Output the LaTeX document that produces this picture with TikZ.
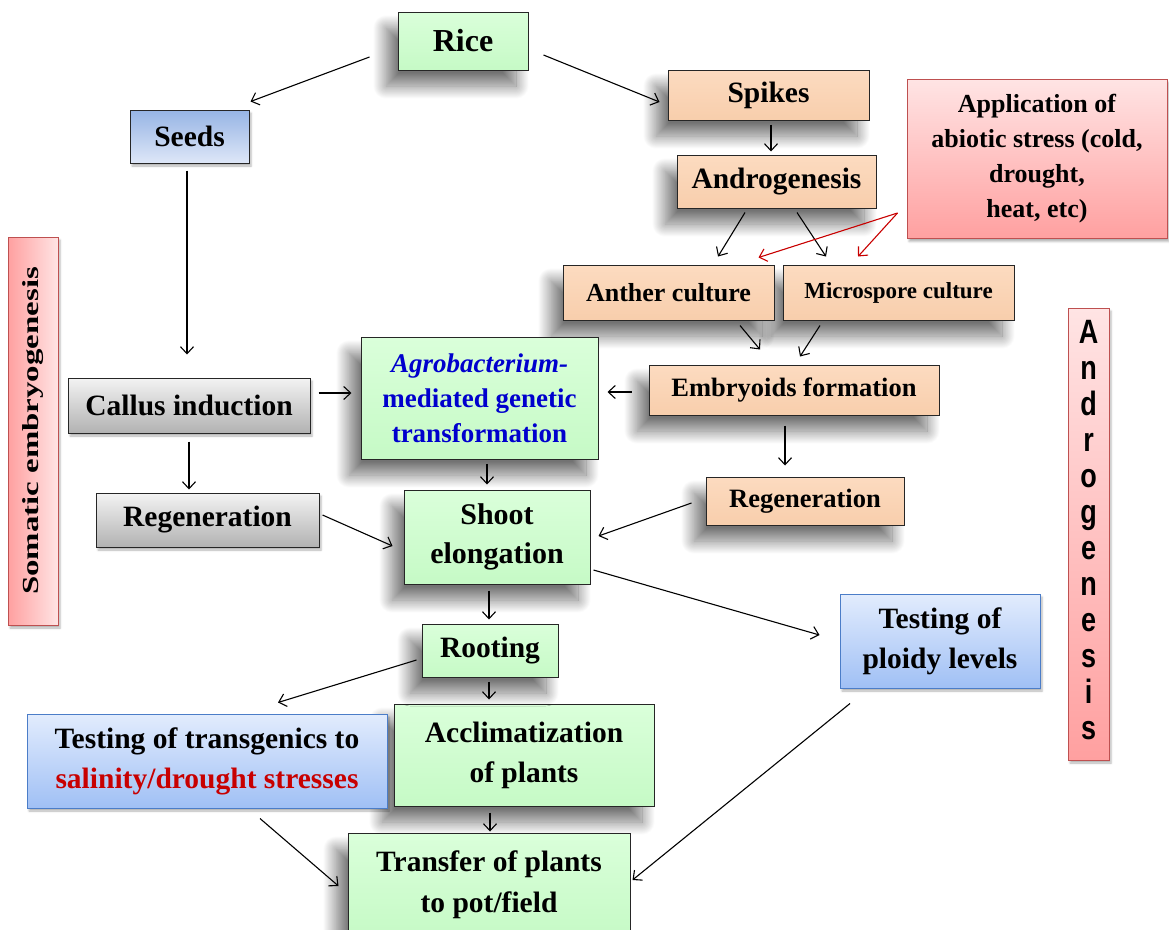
\documentclass[tikz,border=0pt]{standalone}
\usepackage{fontspec}
\setmainfont{Liberation Serif}
\newfontfamily\androfont{Liberation Sans}
\usetikzlibrary{shadows.blur, arrows.meta}

\definecolor{grtop}{RGB}{218,255,218}
\definecolor{grbot}{RGB}{198,250,198}
\definecolor{petop}{RGB}{252,219,192}
\definecolor{pebot}{RGB}{248,206,172}
\definecolor{sdtop}{RGB}{150,180,228}
\definecolor{sdbot}{RGB}{222,231,248}
\definecolor{tsttop}{RGB}{226,236,253}
\definecolor{tstbot}{RGB}{160,192,245}
\definecolor{tstline}{RGB}{75,125,200}
\definecolor{gytop}{RGB}{243,243,243}
\definecolor{gybot}{RGB}{178,178,178}
\definecolor{pktop}{RGB}{255,228,228}
\definecolor{pkbot}{RGB}{255,160,160}
\definecolor{pkline}{RGB}{190,80,80}
\definecolor{stressred}{RGB}{200,0,0}
\definecolor{agroblue}{RGB}{0,0,205}

\newcommand{\boxfont}[2]{\fontsize{#1}{#2}\selectfont\bfseries}

\begin{document}
\begin{tikzpicture}[x=1pt, y=-1pt,
    box/.style={draw=black!85, line width=1pt, align=center, inner sep=0pt, font=\boxfont{29.5}{40}},
    deepshadow/.style={blur shadow={shadow xshift=-12pt, shadow yshift=-16pt, shadow blur radius=13pt,
                       shadow blur steps=30, shadow opacity=55}},
    flatshadow/.style={blur shadow={shadow xshift=2pt, shadow yshift=-3pt, shadow blur radius=2pt, shadow opacity=30}},
    greenbox/.style={box, deepshadow, top color=grtop, bottom color=grbot},
    peachbox/.style={box, deepshadow, top color=petop, bottom color=pebot},
    seedbox/.style={box, flatshadow, top color=sdtop, bottom color=sdbot},
    testbox/.style={box, flatshadow, draw=tstline, top color=tsttop, bottom color=tstbot},
    graybox/.style={box, flatshadow, top color=gytop, bottom color=gybot},
    pinkbox/.style={box, flatshadow, draw=pkline, top color=pktop, bottom color=pkbot},
    arr/.style={-{Straight Barb[length=7pt,width=13pt]}, line width=1.1pt},
    redarr/.style={arr, draw=stressred},
  ]
  \useasboundingbox (0,0) rectangle (1169,929);

  % androgenesis branch
  \node[peachbox, minimum width=201pt, minimum height=50pt] (spikes) at (768.5,95) {Spikes};
  \node[peachbox, minimum width=199pt, minimum height=53pt] (androgen) at (776.5,181.5) {Androgenesis};
  \node[peachbox, minimum width=231pt, minimum height=55pt, font=\boxfont{23}{30}] (micro) at (898.5,292.5) {Microspore culture};
  \node[peachbox, minimum width=211pt, minimum height=55pt, font=\boxfont{26}{30}] (anther) at (668.5,292.5) {Anther culture};
  \node[peachbox, minimum width=290pt, minimum height=50pt, font=\boxfont{26.5}{30}] (embryoids) at (794,390) {Embryoids formation};
  \node[peachbox, minimum width=198pt, minimum height=48pt, font=\boxfont{26.5}{30}] (regenR) at (805,501) {Regeneration};

  % main line
  \node[greenbox, minimum width=130pt, minimum height=58pt, font=\boxfont{32}{40}] (rice) at (463,41) {Rice};
  \node[greenbox, minimum width=260pt, minimum height=102pt] (acclim) at (524,755) {Acclimatization\\of plants};
  \node[greenbox, minimum width=237pt, minimum height=122pt, font=\boxfont{27}{35}, text=agroblue] (agro) at (479.5,398)
       {\textit{Agrobacterium-}\\mediated genetic\\transformation};
  \node[greenbox, minimum width=186pt, minimum height=94pt, font=\boxfont{30}{39}] (shoot) at (497,537) {Shoot\\elongation};
  \node[greenbox, minimum width=136pt, minimum height=53pt] (rooting) at (490,650.5) {Rooting};
  \node[greenbox, minimum width=282pt, minimum height=104pt, font=\boxfont{29.5}{41}] (transfer) at (489,885)
       {Transfer of plants\\to pot/field};

  % somatic branch and side boxes
  \node[seedbox, minimum width=119pt, minimum height=53pt] (seeds) at (189.5,136.5) {Seeds};
  \node[graybox, minimum width=242pt, minimum height=55pt] (callus) at (189,405.5) {Callus induction};
  \node[graybox, minimum width=223pt, minimum height=54pt] (regenL) at (207.5,520) {Regeneration};
  \node[pinkbox, rotate=90, left color=pkbot, right color=pktop, minimum width=388pt, minimum height=50pt,
        font=\boxfont{23}{23}] (somatic) at (33,431) {\scalebox{1.43}[1]{Somatic embryogenesis}};
  \node[testbox, minimum width=360pt, minimum height=94pt] (transgen) at (207,761)
       {Testing of transgenics to\\\textcolor{stressred}{salinity/drought stresses}};
  \node[pinkbox, minimum width=260pt, minimum height=159pt, font=\boxfont{26}{35}] (stress) at (1037,159)
       {Application of\\abiotic stress (cold,\\drought,\\heat, etc)};
  \node[testbox, minimum width=200pt, minimum height=94pt, font=\boxfont{29.5}{40}] (ploidy) at (940,641) {Testing of\\ploidy levels};
  \node[pinkbox, minimum width=41pt, minimum height=452pt, font=\androfont\bfseries\fontsize{27}{28.8}\selectfont] (androV) at (1088.5,534)
       {\scalebox{1}[1.25]{\begin{tabular}{@{}c@{}}A\\n\\d\\r\\o\\g\\e\\n\\e\\s\\i\\s\end{tabular}}};

  % connectors
  \draw[arr] ([shift={(-28,16)}]rice.west) -- ([shift={(1,-8)}]seeds.north east);
  \draw[arr] ([shift={(15,14)}]rice.east) -- ([shift={(-8,7)}]spikes.west);
  \draw[arr] ([shift={(2.5,4)}]spikes.south) -- ([shift={(-5.5,-3)}]androgen.north);
  \draw[arr] ([shift={(-2.5,7)}]seeds.south) -- ([shift={(-2,-23)}]callus.north);
  \draw[arr] ([shift={(-31.5,4)}]androgen.south) -- ([shift={(49.5,-8)}]anther.north);
  \draw[arr] ([shift={(20.5,4)}]androgen.south) -- ([shift={(-72.5,-8)}]micro.north);
  \draw[redarr] ([shift={(-9,54)}]stress.west) -- ([shift={(-16,-7)}]anther.north east);
  \draw[redarr] ([shift={(-9,54)}]stress.west) -- ([shift={(-40.5,-8)}]micro.north);
  \draw[arr] ([shift={(71.5,5)}]anther.south) -- ([shift={(-34,-15)}]embryoids.north);
  \draw[arr] ([shift={(-78.5,5)}]micro.south) -- ([shift={(6,-8)}]embryoids.north);
  \draw[arr] ([shift={(8,-12.5)}]callus.east) -- ([shift={(-9,-5)}]agro.west);
  \draw[arr] ([shift={(-17,2)}]embryoids.west) -- ([shift={(9,-6)}]agro.east);
  \draw[arr] ([shift={(-9,10)}]embryoids.south) -- ([shift={(-20,-11)}]regenR.north);
  \draw[arr] ([shift={(7.5,4)}]agro.south) -- ([shift={(-10,-5)}]shoot.north);
  \draw[arr] ([shift={(0,8)}]callus.south) -- ([shift={(-18.5,-3)}]regenL.north);
  \draw[arr] ([shift={(3,-5)}]regenL.east) -- ([shift={(-11,9)}]shoot.west);
  \draw[arr] ([shift={(-14,2)}]regenR.west) -- ([shift={(8,-1)}]shoot.east);
  \draw[arr] ([shift={(-8,6)}]shoot.south) -- ([shift={(-1,-4)}]rooting.north);
  \draw[arr] ([shift={(3,33)}]shoot.east) -- ([shift={(-20,-6)}]ploidy.west);
  \draw[arr] ([shift={(-5,9.5)}]rooting.west) -- ([shift={(71,-11)}]transgen.north);
  \draw[arr] ([shift={(-1,4)}]rooting.south) -- ([shift={(-35,-4)}]acclim.north);
  \draw[arr] ([shift={(-34,6)}]acclim.south) -- ([shift={(1,-1)}]transfer.north);
  \draw[arr] ([shift={(53,10)}]transgen.south) -- ([shift={(-9,1)}]transfer.west);
  \draw[arr] ([shift={(-90,15)}]ploidy.south) -- ([shift={(2,-5)}]transfer.east);
\end{tikzpicture}
\end{document}
